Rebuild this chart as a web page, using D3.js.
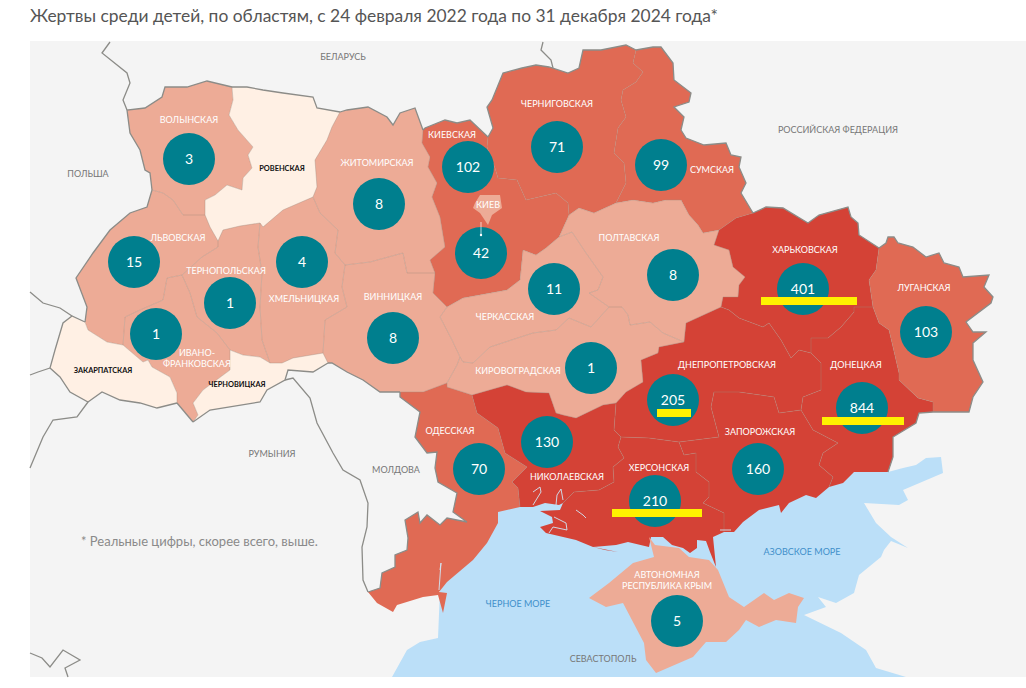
<!DOCTYPE html>
<html><head><meta charset="utf-8">
<style>html,body{margin:0;padding:0;background:#fff;overflow:hidden}svg{display:block}text{font-family:Lato,sans-serif}</style>
<script src="https://cdn.jsdelivr.net/npm/d3@7/dist/d3.min.js"></script>
</head><body><svg id="map" width="1026" height="688"></svg>
<script>
const titleText = "Жертвы среди детей, по областям, с 24 февраля 2022 года по 31 декабря 2024 года*";
const footnote = "* Реальные цифры, скорее всего, выше.";

// Oblast names and child casualty counts
const regionNames = ["Волынская","Ровенская","Львовская","Тернопольская","Ивано-Франковская","Закарпатская","Черновицкая","Хмельницкая","Житомирская","Винницкая","Киевская","Черниговская","Сумская","Полтавская","Черкасская","Кировоградская","Одесская","Николаевская","Херсонская","Запорожская","Днепропетровская","Харьковская","Донецкая","Луганская","Крым","Киев"];
const victims = [3,0,15,1,1,0,0,4,8,8,102,71,99,8,11,1,70,130,210,160,205,401,844,103,5,42];

// Map geometry: shared border arcs, in map units
const arcs = {
 F_vol:[[152,190],[150,173],[145,170],[140,150],[130,133],[127,110],[145,108],[162,97],[165,87],[187,87],[207,81],[232,87]],
 I_vol_riv:[[232,87],[233,100],[229,115],[238,130],[253,147],[248,155],[252,168],[243,178],[242,190],[227,185],[215,195],[205,200],[205,215]],
 I_vol_lvi:[[205,215],[183,215],[173,200],[163,193],[152,190]],
 F_riv:[[232,87],[247,87],[263,90],[283,93],[313,97],[317,108],[340,112]],
 I_riv_zhy:[[340,112],[332,127],[327,140],[315,160],[317,187],[313,197]],
 I_riv_khm:[[313,197],[283,210],[263,227],[260,223]],
 I_riv_ter:[[260,223],[240,226],[223,230],[218,241]],
 I_riv_lvi:[[218,241],[210,227],[205,215]],
 I_lvi_ter:[[218,241],[218,247],[202,257],[182,275]],
 I_lvi_if:[[182,275],[167,278],[163,300],[140,310],[125,317],[123,345]],
 F_lvi:[[152,190],[147,207],[130,213],[110,230],[93,253],[76,278],[87,307],[85,322]],
 I_lvi_zak:[[85,322],[88,330],[107,342],[123,345]],
 F_zak:[[85,322],[72,316],[63,323],[55,350],[50,368],[60,377],[70,392],[88,402],[102,392],[120,400],[140,403],[157,408],[177,403]],
 I_zak_if:[[123,345],[143,362],[148,360],[152,367],[170,377],[177,393],[177,403]],
 F_if:[[177,403],[193,422]],
 I_if_che:[[193,422],[198,415],[193,403],[203,390],[230,370],[230,350]],
 I_if_ter:[[230,350],[217,333],[197,317],[190,293],[182,275]],
 F_che:[[193,422],[210,410],[260,402],[267,390],[285,380],[288,370],[313,372],[328,363]],
 I_che_ter:[[230,350],[243,355],[260,357],[270,363]],
 I_che_khm:[[270,363],[282,363],[293,358],[323,353]],
 I_che_vin:[[323,353],[328,363]],
 I_ter_khm:[[260,223],[258,247],[262,273],[260,307],[262,340],[270,363]],
 I_khm_zhy:[[313,197],[320,213],[338,230],[335,253],[345,265]],
 I_khm_vin:[[345,265],[342,287],[347,307],[325,320],[323,353]],
 I_zhy_vin:[[345,265],[370,262],[403,253],[407,273],[435,273]],
 F_zhy:[[340,112],[347,110],[368,107],[387,117],[393,125],[400,113],[415,108],[423,130]],
 I_zhy_kyi:[[423,130],[422,143],[430,157],[428,167],[437,183],[432,197],[440,217],[445,247],[430,260],[435,273]],
 I_vin_kyi:[[435,273],[433,293],[447,307]],
 I_vin_che:[[447,307],[440,317],[452,340],[460,357]],
 I_vin_kir:[[460,357],[457,365],[447,383]],
 I_vin_ode:[[447,383],[423,392],[400,392]],
 F_vin:[[400,392],[380,392],[363,380],[347,372],[332,363],[328,363]],
 F_kyi:[[423,130],[425,128],[445,120],[457,123],[470,120],[488,137]],
 I_kyi_chn:[[488,137],[487,147],[495,168],[498,178],[517,180],[526,200],[556,193],[568,203],[569,215]],
 I_kyi_pol:[[569,215],[559,237]],
 I_kyi_chk:[[559,237],[546,248],[536,255],[523,250],[520,280],[507,290],[463,298],[447,307]],
 F_chn:[[488,137],[493,128],[487,107],[492,100],[503,73],[522,68],[536,65],[549,67],[568,73],[579,68],[583,50],[601,50],[626,45],[636,50]],
 I_chn_sum:[[636,50],[633,63],[643,72],[636,82],[623,90],[621,100],[626,117],[618,128],[614,153],[624,163],[626,183],[616,203]],
 I_chn_pol:[[616,203],[594,213],[579,208],[569,215]],
 F_sum:[[636,50],[653,47],[661,47],[673,63],[674,80],[691,93],[689,102],[674,107],[684,117],[681,130],[686,138],[704,145],[726,143],[731,155],[741,157],[739,167],[746,183],[741,193],[753,213]],
 I_sum_pol:[[616,203],[633,200],[653,203],[666,200],[681,200],[689,215],[698,225],[703,233],[719,230]],
 I_sum_kha:[[719,230],[736,218],[753,213]],
 I_pol_kha:[[719,230],[714,245],[729,250],[733,267],[745,277],[739,285],[738,297],[723,297],[721,307]],
 F_kha:[[753,213],[766,207],[783,208],[808,223],[819,215],[848,207],[851,217],[858,223],[859,235],[879,248]],
 I_kha_lug:[[879,248],[876,270],[869,280],[873,307]],
 I_kha_don:[[873,307],[854,307],[854,312],[841,327],[828,338],[811,338],[811,353]],
 I_kha_dni:[[811,353],[799,350],[791,358],[781,340],[769,323],[763,327],[739,318],[729,310],[721,307]],
 I_pol_dni:[[721,307],[686,323],[684,342]],
 I_pol_kir:[[684,342],[663,333],[650,322],[630,325],[628,315],[622,307],[609,307]],
 I_pol_chk:[[559,237],[572,232],[586,253],[603,277],[598,290],[589,293],[609,307]],
 I_chk_kir:[[609,307],[591,327],[569,318],[556,330],[533,333],[490,347],[473,363],[463,362],[460,357]],
 I_kir_ode:[[447,383],[447,387],[472,395]],
 I_kir_myk:[[472,395],[507,385],[526,392],[549,393],[556,413],[563,415],[576,418],[603,405],[616,403]],
 I_kir_dni:[[616,403],[626,392],[643,382],[641,360],[658,353],[659,347],[684,342]],
 I_ode_myk:[[472,395],[477,413],[498,428],[505,453],[527,467],[512,482],[518,488],[520,507]],
 C_ode:[[520,507],[498,512],[498,523],[487,543],[473,560],[447,582],[439,592],[447,593],[443,613],[438,595],[423,597],[397,605],[393,612],[377,603],[368,592]],
 F_ode:[[368,592],[380,588],[382,573],[395,567],[395,555],[407,550],[408,538],[405,520],[418,512],[420,523],[427,515],[440,525],[447,518],[467,522],[453,512],[457,493],[438,482],[435,468],[437,452],[427,453],[415,437],[420,412],[400,397],[400,392]],
 C_myk:[[520,507],[533,507],[545,503],[559,505],[563,503]],
 I_myk_dni:[[616,403],[614,430],[621,437]],
 I_myk_khe:[[621,437],[618,447],[624,458],[613,467],[614,482],[599,490],[574,492],[563,503]],
 I_dni_khe:[[621,437],[649,438],[679,442]],
 I_dni_zap:[[679,442],[719,437],[711,407],[714,392],[739,392],[774,397],[779,413],[801,410]],
 I_dni_don:[[801,410],[803,397],[821,390],[821,363],[811,353]],
 I_khe_zap:[[679,442],[684,455],[696,453],[696,472],[709,482],[709,497],[703,503],[724,513],[724,532]],
 C_khe:[[563,503],[560,510],[540,511],[552,517],[553,523],[540,527],[546,533],[576,540],[593,547],[616,545],[628,542],[649,547],[651,537],[663,537],[672,545],[683,548],[690,553],[697,548],[697,540],[706,541],[710,552],[716,567],[713,537],[724,532]],
 C_zap:[[724,532],[734,532],[743,522],[759,510],[779,505],[781,513],[789,503],[806,495],[816,498],[829,487]],
 I_zap_don:[[801,410],[813,430],[838,443],[823,453],[819,465],[833,477],[829,487]],
 C_don:[[829,487],[843,483],[854,472],[888,472]],
 F_don:[[888,472],[893,457],[893,437],[916,423],[919,413],[933,412]],
 I_don_lug:[[873,307],[879,323],[889,330],[893,347],[899,373],[899,380],[918,398],[933,402],[933,412]],
 F_lug:[[879,248],[886,243],[888,237],[894,237],[898,243],[913,247],[926,257],[939,253],[944,263],[959,267],[963,277],[989,275],[984,287],[993,297],[991,303],[966,322],[973,332],[986,332],[973,343],[973,360],[983,382],[973,397],[969,412],[933,412]],
 C_cri:[[649,537],[655,545],[679,548],[689,557],[709,560],[718,570],[729,597],[744,607],[764,593],[774,600],[789,593],[804,598],[798,607],[796,623],[776,620],[759,627],[746,620],[739,630],[726,642],[706,642],[693,657],[656,673],[646,660],[644,643],[623,603],[606,607],[589,598],[609,583],[633,563],[654,557],[649,537]],
 C_kyivCity:[[475,203],[480,195],[500,195],[502,208],[492,215],[488,225],[480,213],[473,208],[475,203]]
};
// Rings: arc names in order, "-" = reversed. Same order as regionNames.
const regionRings = [
 ["F_vol","I_vol_riv","I_vol_lvi"],
 ["F_riv","I_riv_zhy","I_riv_khm","I_riv_ter","I_riv_lvi","-I_vol_riv"],
 ["-I_vol_lvi","-I_riv_lvi","I_lvi_ter","I_lvi_if","-I_lvi_zak","-F_lvi"],
 ["-I_riv_ter","I_ter_khm","-I_che_ter","I_if_ter","-I_lvi_ter"],
 ["I_lvi_if","I_zak_if","F_if","I_if_che","I_if_ter"],
 ["F_zak","-I_zak_if","-I_lvi_zak"],
 ["-I_if_che","F_che","-I_che_vin","-I_che_khm","-I_che_ter"],
 ["-I_riv_khm","I_khm_zhy","I_khm_vin","-I_che_khm","-I_ter_khm"],
 ["F_zhy","I_zhy_kyi","-I_zhy_vin","-I_khm_zhy","-I_riv_zhy"],
 ["I_zhy_vin","I_vin_kyi","I_vin_che","I_vin_kir","I_vin_ode","F_vin","-I_che_vin","-I_khm_vin"],
 ["F_kyi","I_kyi_chn","I_kyi_pol","I_kyi_chk","-I_vin_kyi","-I_zhy_kyi"],
 ["F_chn","I_chn_sum","I_chn_pol","-I_kyi_chn"],
 ["F_sum","-I_sum_kha","-I_sum_pol","-I_chn_sum"],
 ["-I_chn_pol","I_sum_pol","I_pol_kha","I_pol_dni","I_pol_kir","-I_pol_chk","-I_kyi_pol"],
 ["-I_kyi_chk","I_pol_chk","I_chk_kir","-I_vin_che"],
 ["-I_chk_kir","-I_pol_kir","-I_kir_dni","-I_kir_myk","-I_kir_ode","-I_vin_kir"],
 ["-I_vin_ode","I_kir_ode","I_ode_myk","C_ode","F_ode"],
 ["I_kir_myk","I_myk_dni","I_myk_khe","-C_myk","-I_ode_myk"],
 ["-I_myk_khe","I_dni_khe","I_khe_zap","-C_khe"],
 ["I_khe_zap","C_zap","-I_zap_don","-I_dni_zap"],
 ["I_kir_dni","-I_pol_dni","-I_kha_dni","-I_dni_don","-I_dni_zap","-I_dni_khe","-I_myk_dni"],
 ["F_kha","I_kha_lug","I_kha_don","I_kha_dni","-I_pol_kha","I_sum_kha"],
 ["-I_kha_don","I_don_lug","-F_don","-C_don","-I_zap_don","I_dni_don"],
 ["F_lug","-I_don_lug","-I_kha_lug"],
 ["C_cri"],
 ["C_kyivCity"]
];
const seaRing = [[440,590],[480,530],[510,495],[560,495],[720,520],[790,495],[850,465],[888,472],[903,468],[916,465],[926,458],[941,457],[943,473],[903,490],[908,500],[899,505],[864,503],[876,523],[891,537],[908,548],[891,541],[884,550],[881,557],[859,575],[854,593],[836,603],[818,597],[826,607],[804,615],[841,633],[866,650],[876,668],[906,677],[392,677],[407,650],[420,642],[438,638],[443,613]];
const neighbourBorders = [
 [[110,42],[102,53],[127,73],[130,83],[123,100],[127,110]],
 [[30,292],[43,303],[60,308],[72,316]],
 [[30,375],[38,372],[50,368]],
 [[30,468],[43,437],[53,420],[77,417],[88,402]],
 [[285,380],[293,378],[310,398],[317,423],[333,453],[343,470],[360,480],[368,503],[367,527],[362,547],[363,580],[368,592]],
 [[543,42],[541,50],[551,60],[553,68]],
 [[30,653],[42,658],[50,667],[63,650],[80,660],[65,668],[68,677]]
];
const waterLines = [
 [[533,492],[540,487],[541,492],[533,505]],
 [[556,505],[557,495],[561,489],[563,500]],
 [[554,517],[566,523],[567,530],[553,527],[549,533]],
 [[576,510],[583,515],[586,518]],
 [[440,570],[441,563],[439,590]],
 [[720,530],[731,530]]
];
const tendraSpit = [[593,547],[605,550],[618,552],[605,553]];

const bubbleCentres = [[189,159],null,[134,262],[230,303],[156,334],null,null,[302,262],[379,204],[393,338],[468,167],[557,147],[661,165],[673,275],[554,289],[591,368],[479,469],[547,442],[655,501],[758,469],[673,400],[803,289],[862,408],[926,332],[677,621],[481,253]];
const highlightNames = ["Харьковская","Днепропетровская","Донецкая","Херсонская"];
const highlightSpans = [[[761,301],[857,301]],[[657,413],[691,413]],[[822,421],[904,421]],[[612,513],[702,513]]];

const whiteLabels = ["ВОЛЫНСКАЯ","ЖИТОМИРСКАЯ","КИЕВСКАЯ","ЧЕРНИГОВСКАЯ","СУМСКАЯ","КИЕВ","ЛЬВОВСКАЯ","ТЕРНОПОЛЬСКАЯ","ХМЕЛЬНИЦКАЯ","ВИННИЦКАЯ","ЧЕРКАССКАЯ","КИРОВОГРАДСКАЯ","ПОЛТАВСКАЯ","ХАРЬКОВСКАЯ","ЛУГАНСКАЯ","ДНЕПРОПЕТРОВСКАЯ","ДОНЕЦКАЯ","ЗАПОРОЖСКАЯ","ХЕРСОНСКАЯ","НИКОЛАЕВСКАЯ","ОДЕССКАЯ","ИВАНО-","ФРАНКОВСКАЯ","АВТОНОМНАЯ","РЕСПУБЛИКА КРЫМ"];
const whiteAnchors = [[189,120],[377,163],[452,135],[557,104],[712,170],[488,205],[178,238],[226,271],[304,299],[393,297],[505,317],[518,371],[629,238],[805,250],[924,288],[727,365],[856,365],[760,432],[659,468],[567,477],[450,431],[197,353],[197,364],[667,575],[667,586]];
const blackLabels = ["РОВЕНСКАЯ","ЗАКАРПАТСКАЯ","ЧЕРНОВИЦКАЯ"];
const blackAnchors = [[282,168],[103,370],[237,384]];
const greyLabels = ["БЕЛАРУСЬ","ПОЛЬША","РОССИЙСКАЯ ФЕДЕРАЦИЯ","РУМЫНИЯ","МОЛДОВА","СЕВАСТОПОЛЬ"];
const greyAnchors = [[343,57],[88,174],[838,130],[272,454],[396,470],[603,659]];
const seaLabels = ["ЧЕРНОЕ МОРЕ","АЗОВСКОЕ МОРЕ"];
const seaAnchors = [[518,604],[802,552]];

const svg = d3.select("#map");
const projection = d3.geoIdentity();
const path = d3.geoPath(projection);
const fillScale = d3.scaleThreshold().domain([1,50,130]).range(["#fff0e4","#edab96","#e06a54","#d44236"]);
const ringOf = names => {
  const pts = [];
  names.forEach(n => {
    const rev = n[0]==="-", a = arcs[rev?n.slice(1):n];
    (rev?a.slice().reverse():a).forEach(p => pts.push(p));
  });
  return pts;
};
const poly = r => ({type:"Polygon",coordinates:[r]});
const line = r => ({type:"LineString",coordinates:r});

svg.append("text").attr("x",30).attr("y",22).attr("font-size",18).attr("fill","#555")
  .attr("textLength",688).attr("lengthAdjust","spacingAndGlyphs").text(titleText);
svg.append("rect").attr("x",30).attr("y",41).attr("width",996).attr("height",636).attr("fill","#f4f4f4");
svg.append("path").attr("d",path(poly(seaRing))).attr("fill","#bbdff8");

svg.append("g").selectAll("path").data(neighbourBorders).join("path")
  .attr("d",d=>path(line(d))).attr("fill","none").attr("stroke","#8c8c88").attr("stroke-width",1.3);

svg.append("g").selectAll("path").data(regionRings).join("path")
  .attr("d",d=>path(poly(ringOf(d))))
  .attr("fill",(d,i)=>fillScale(victims[i]));

const arcNames = Object.keys(arcs);
svg.append("g").selectAll("path").data(arcNames.filter(n=>n[0]==="I")).join("path")
  .attr("d",n=>path(line(arcs[n]))).attr("fill","none").attr("stroke","#a08a78").attr("stroke-opacity",.55).attr("stroke-width",.7);
svg.append("g").selectAll("path").data(arcNames.filter(n=>n[0]==="F")).join("path")
  .attr("d",n=>path(line(arcs[n]))).attr("fill","none").attr("stroke","#8c8c88").attr("stroke-width",1.3);

svg.append("path").attr("d",path(poly(tendraSpit))).attr("fill","#d44236");
svg.append("g").selectAll("path").data(waterLines).join("path")
  .attr("d",d=>path(line(d))).attr("fill","none").attr("stroke","#cfe6f6").attr("stroke-width",.9);

const labelLayer = (names,anchors,size,fill,weight) => svg.append("g").selectAll("text")
  .data(names).join("text")
  .attr("x",(d,i)=>projection(anchors[i])[0]).attr("y",(d,i)=>projection(anchors[i])[1])
  .attr("dy","0.35em").attr("text-anchor","middle").attr("font-size",size)
  .attr("fill",fill).attr("font-weight",weight).text(d=>d);
labelLayer(greyLabels,greyAnchors,9,"#777",400);
labelLayer(seaLabels,seaAnchors,9,"#3f8fca",400);
labelLayer(whiteLabels,whiteAnchors,9,"#fff",400);
labelLayer(blackLabels,blackAnchors,7.4,"#111",700);

const bubbles = victims.map((v,i)=>({v,c:bubbleCentres[i]})).filter(d=>d.c);
svg.append("g").selectAll("circle").data(bubbles).join("circle")
  .attr("cx",d=>projection(d.c)[0]).attr("cy",d=>projection(d.c)[1]).attr("r",26).attr("fill","#007f8e");
svg.append("g").selectAll("text").data(bubbles).join("text")
  .attr("x",d=>projection(d.c)[0]).attr("y",d=>projection(d.c)[1])
  .attr("dy","0.35em").attr("text-anchor","middle").attr("font-size",14).attr("fill","#fff").text(d=>d.v);

const kyivIdx = regionNames.indexOf("Киев");
const kyivC = projection(bubbleCentres[kyivIdx]);
svg.append("line").attr("x1",kyivC[0]).attr("x2",kyivC[0]).attr("y1",kyivC[1]-31).attr("y2",kyivC[1]-18).attr("stroke","#fff").attr("stroke-width",.7);
svg.append("circle").attr("cx",kyivC[0]).attr("cy",kyivC[1]-18).attr("r",1.2).attr("fill","#fff");

svg.append("g").selectAll("path").data(highlightSpans).join("path")
  .attr("d",d=>path(line(d))).attr("stroke","#fff200").attr("stroke-width",8).attr("stroke-linecap","butt").attr("fill","none");

svg.append("text").attr("x",81).attr("y",546).attr("font-size",13).attr("fill","#8a8a8a").text(footnote);
</script></body></html>
